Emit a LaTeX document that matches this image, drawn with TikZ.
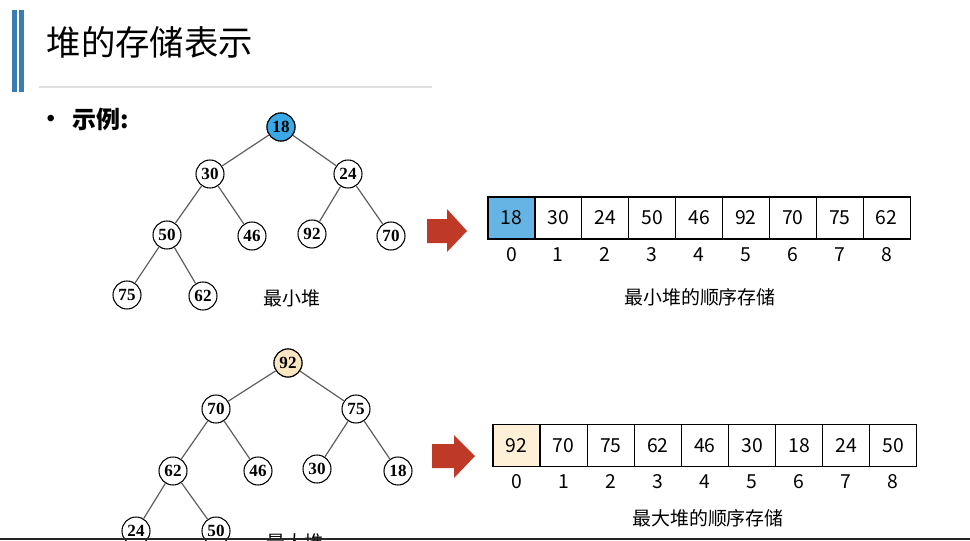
\documentclass[tikz,border=0pt]{standalone}
\usepackage{fontspec}
\setmainfont{Noto Sans CJK SC}
\newfontfamily\treefont{Liberation Serif}
\newfontfamily\dotfont{Liberation Sans}
\usepackage{tikz}
\usetikzlibrary{calc}

\definecolor{barblue}{HTML}{3A7DB5}
\definecolor{rootblue}{HTML}{3AA9E6}
\definecolor{cellblue}{HTML}{65B4E4}
\definecolor{rootcream}{HTML}{FBE6C2}
\definecolor{cellcream}{HTML}{FDF0D6}
\definecolor{arrowred}{HTML}{BE3A26}
\definecolor{edgegray}{HTML}{5E5E5E}

\tikzset{
  heapnode/.style={circle, draw, thick, fill=white, inner sep=0pt, minimum size=21pt,
    text height=8.5pt, text depth=0pt,
    font=\treefont\bfseries\fontsize{12.8}{13}\selectfont},
  heapedge/.style={edgegray, line width=0.9pt},
  cell/.style={draw, line width=0.9pt, fill=white, inner sep=0pt, minimum width=35.2pt,
    minimum height=31.5pt, text height=10.4pt, text depth=0pt,
    font=\fontsize{14.5}{15}\selectfont},
  index/.style={text height=10.4pt, text depth=0pt, font=\fontsize{14.5}{15}\selectfont},
  caption/.style={font=\fontsize{14.2}{15}\selectfont},
}

\begin{document}
\begin{tikzpicture}[x=0.75pt,y=-0.75pt]
  \useasboundingbox (0,0) rectangle (970,540);
  \clip (0,0) rectangle (970,540);

  % Draw the title bar
  \fill[barblue] (12,10) rectangle (17,92);
  \fill[barblue] (19,10) rectangle (24,92);
  \node[anchor=west, font=\fontsize{25.8}{26}\selectfont] (title) at (42,42) {堆的存储表示};
  \draw[black!12, line width=0.8pt] (39,87) -- (432,87);

  % Draw the bullet
  \node[anchor=west, font=\dotfont\fontsize{18}{19}\selectfont] (bullet) at (42,121) {•};
  \node[anchor=west, font=\bfseries\fontsize{18}{19}\selectfont] (demo) at (68,119) {示例:};

  % Define the nodes of the min heap
  \foreach \name/\x/\y/\v in {a1/281/127/18, a2/210/174/30, a3/348/174/24,
      a4/167/235/50, a5/252/236/46, a6/312/234/92, a7/391/236/70,
      a8/127/295/75, a9/203/296/62} {
    \node[heapnode] (\name) at (\x,\y) {\v};
  }
  \node[heapnode, fill=rootblue] at (a1) {18};

  % Draw the edges of the min heap
  \foreach \p/\c in {a1/a2, a1/a3, a2/a4, a2/a5, a3/a6, a3/a7, a4/a8, a4/a9} {
    \draw[heapedge] (\p) -- (\c);
  }
  \node[caption] (minlabel) at (292,298) {最小堆};

  % Draw the arrow of the min heap
  \fill[arrowred] (427,219) -- (447,219) -- (447,209) -- (467,231)
    -- (447,252) -- (447,243) -- (427,243) -- cycle;

  % Draw the array of the min heap
  \foreach \v [count=\i from 0] in {18,30,24,50,46,92,70,75,62} {
    \node[cell] (A\i) at ({488+46.9*(\i+0.5)},218) {\v};
    \node[index] (Ai\i) at ({488+46.9*(\i+0.5)},255) {\i};
  }
  \node[cell, fill=cellblue] at (A0) {18};
  \node[caption] (mincap) at (700,297) {最小堆的顺序存储};

  % Define the nodes of the max heap
  \foreach \name/\x/\y/\v in {b1/288/363/92, b2/216/409/70, b3/356/409/75,
      b4/173/471/62, b5/258/471/46, b6/317/469/30, b7/398/471/18,
      b8/136/531/24, b9/216/531/50} {
    \node[heapnode] (\name) at (\x,\y) {\v};
  }
  \node[heapnode, fill=rootcream] at (b1) {92};

  % Draw the edges of the max heap
  \foreach \p/\c in {b1/b2, b1/b3, b2/b4, b2/b5, b3/b6, b3/b7, b4/b8, b4/b9} {
    \draw[heapedge] (\p) -- (\c);
  }
  \node[caption] (maxlabel) at (295,542) {最大堆};

  % Draw the arrow of the max heap
  \fill[arrowred] (432,444) -- (454,444) -- (454,435) -- (475,456)
    -- (454,478) -- (454,468) -- (432,468) -- cycle;

  % Draw the array of the max heap
  \foreach \v [count=\i from 0] in {92,70,75,62,46,30,18,24,50} {
    \node[cell] (B\i) at ({493+47.1*(\i+0.5)},445.5) {\v};
    \node[index] (Bi\i) at ({493+47.1*(\i+0.5)},482) {\i};
  }
  \node[cell, fill=cellcream] at (B0) {92};
  \node[caption] (maxcap) at (708,518) {最大堆的顺序存储};

  % Draw the bottom bar
  \fill[black!85] (0,538) rectangle (970,540);
\end{tikzpicture}
\end{document}
